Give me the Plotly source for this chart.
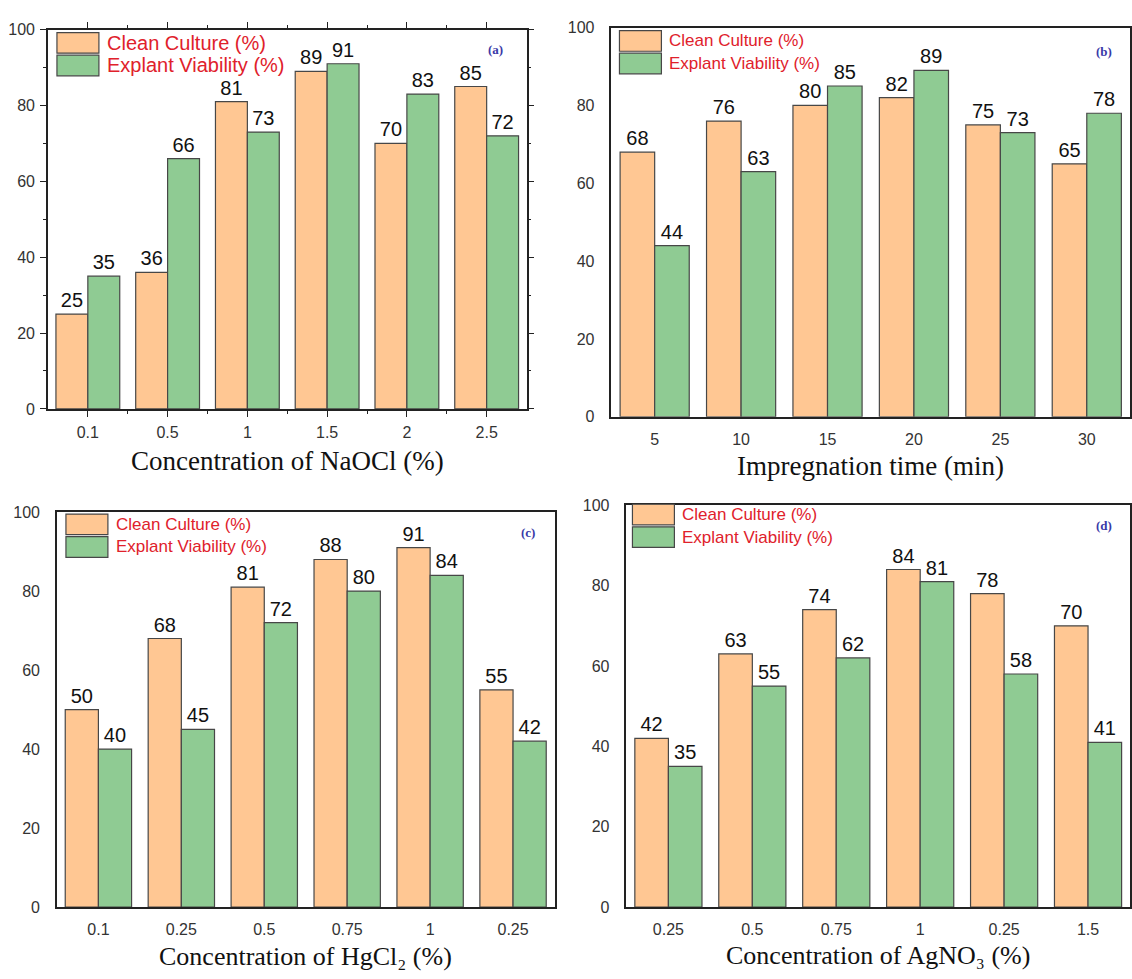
import plotly.graph_objects as go

W, H = 1132, 979

# ---------------- data ----------------
cats_a = ["0.1", "0.5", "1", "1.5", "2", "2.5"]
clean_a = [25, 36, 81, 89, 70, 85]
viab_a = [35, 66, 73, 91, 83, 72]

cats_b = ["5", "10", "15", "20", "25", "30"]
clean_b = [68, 76, 80, 82, 75, 65]
viab_b = [44, 63, 85, 89, 73, 78]

cats_c = ["0.1", "0.25", "0.5", "0.75", "1", "0.25"]
clean_c = [50, 68, 81, 88, 91, 55]
viab_c = [40, 45, 72, 80, 84, 42]

cats_d = ["0.25", "0.5", "0.75", "1", "0.25", "1.5"]
clean_d = [42, 63, 74, 84, 78, 70]
viab_d = [35, 55, 62, 81, 58, 41]

series_names = ["Clean Culture (%)", "Explant Viability (%)"]
xtitles = ["Concentration of NaOCl (%)", "Impregnation time (min)",
           "Concentration of HgCl\u2082 (%)", "Concentration of AgNO\u2083 (%)"]
panel_tags = ["(a)", "(b)", "(c)", "(d)"]

ORANGE = "#FFC793"
GREEN = "#8FCB93"
EDGE = "#474747"
RED = "#E0212B"

# ---------------- layout geometry (pixels) ----------------
panels = [
    dict(cats=cats_a, c=clean_a, v=viab_a, x0=48, x1=527, y0=22, y1=408,
         title_y=461, title_fs=27, leg=(57, 25, 21), legfs=20, tag=(496, 42), ticks=True),
    dict(cats=cats_b, c=clean_b, v=viab_b, x0=612, x1=1131, y0=20, y1=416,
         title_y=466, title_fs=27, leg=(620, 23, 21), legfs=17, tag=(1105, 44), ticks=False),
    dict(cats=cats_c, c=clean_c, v=viab_c, x0=57, x1=555, y0=513, y1=915,
         title_y=965, title_fs=26, leg=(66, 515, 21), legfs=17, tag=(528, 534), ticks=False),
    dict(cats=cats_d, c=clean_d, v=viab_d, x0=627, x1=1131, y0=506, y1=915,
         title_y=964, title_fs=26, leg=(633, 505, 21), legfs=17, tag=(1105, 527), ticks=False),
]


def px(x):
    return x / W


def py(y):
    return 1 - y / H


fig = go.Figure()
layout = dict(width=W, height=H, autosize=False,
              margin=dict(l=0, r=0, t=0, b=0),
              paper_bgcolor="white", plot_bgcolor="white",
              barmode="group", bargap=0.2, bargroupgap=0.0,
              showlegend=False,
              font=dict(family="Liberation Sans, Arial, sans-serif", color="#333333"))
shapes = []
annotations = []

for i, p in enumerate(panels):
    n = i + 1
    xa = "x" if n == 1 else f"x{n}"
    ya = "y" if n == 1 else f"y{n}"
    xs = list(range(len(p["cats"])))
    for vals, col, name in [(p["c"], ORANGE, series_names[0]), (p["v"], GREEN, series_names[1])]:
        fig.add_trace(go.Bar(
            x=xs, y=vals, name=name, xaxis=xa, yaxis=ya,
            marker=dict(color=col, line=dict(color=EDGE, width=1.2)),
            text=[str(v) for v in vals], textposition="outside",
            textfont=dict(size=20, color="#111111", family="Liberation Sans, Arial"),
            cliponaxis=False,
        ))
    xkey = "xaxis" if n == 1 else f"xaxis{n}"
    ykey = "yaxis" if n == 1 else f"yaxis{n}"
    common_line = dict(showline=True, linecolor="#222222", linewidth=1.5, mirror=True,
                       showgrid=False, zeroline=False)
    xdict = dict(domain=[px(p["x0"]), px(p["x1"])], anchor=ya, range=[-0.5, 5.5],
                 tickmode="array", tickvals=xs, ticktext=p["cats"],
                 tickfont=dict(size=16, color="#333333"), **common_line)
    ydict = dict(domain=[py(p["y1"]), py(p["y0"])], anchor=xa, range=[0, 100],
                 tickmode="array", tickvals=[0, 20, 40, 60, 80, 100],
                 tickfont=dict(size=16, color="#333333"), **common_line)
    if p["ticks"]:
        xdict.update(ticks="outside", ticklen=6, tickwidth=1.3, tickcolor="#222222",
                     mirror="ticks", ticklabelstandoff=2,
                     minor=dict(tickvals=[0.5, 1.5, 2.5, 3.5, 4.5], ticks="outside",
                                ticklen=3, tickcolor="#222222"))
        ydict.update(ticks="outside", ticklen=6, tickwidth=1.3, tickcolor="#222222",
                     mirror="ticks", ticklabelstandoff=2,
                     minor=dict(dtick=10, ticks="outside", ticklen=3, tickcolor="#222222"))
    else:
        xdict.update(ticks="", ticklabelstandoff=7)
        ydict.update(ticks="", ticklabelstandoff=12)
    layout[xkey] = xdict
    layout[ykey] = ydict

    # x-axis title
    annotations.append(dict(
        x=px((p["x0"] + p["x1"]) / 2), y=py(p["title_y"]), xref="paper", yref="paper",
        text=xtitles[i], showarrow=False, xanchor="center", yanchor="middle",
        font=dict(family="Liberation Serif, Times New Roman, serif", size=p["title_fs"],
                  color="#111111")))
    # panel tag
    annotations.append(dict(
        x=px(p["tag"][0]), y=py(p["tag"][1]), xref="paper", yref="paper",
        text="<b>" + panel_tags[i] + "</b>", showarrow=False, xanchor="center", yanchor="middle",
        font=dict(family="Liberation Serif, Times New Roman, serif", size=13, color="#3a3aa8")))
    # legend
    lx, ly, sh = p["leg"]
    sw = 42
    for k, (col, name) in enumerate([(ORANGE, series_names[0]), (GREEN, series_names[1])]):
        top = ly + k * (sh + 2)
        shapes.append(dict(type="rect", xref="paper", yref="paper",
                           x0=px(lx), x1=px(lx + sw), y0=py(top + sh), y1=py(top),
                           fillcolor=col, line=dict(color=EDGE, width=1.2)))
        annotations.append(dict(
            x=px(lx + sw + 6), y=py(top + sh / 2), xref="paper", yref="paper",
            text=name, showarrow=False, xanchor="left", yanchor="middle",
            font=dict(family="Liberation Sans, Arial, sans-serif", size=p["legfs"], color=RED)))

layout["shapes"] = shapes
layout["annotations"] = annotations
fig.update_layout(**layout)
fig.write_html("out.html")
